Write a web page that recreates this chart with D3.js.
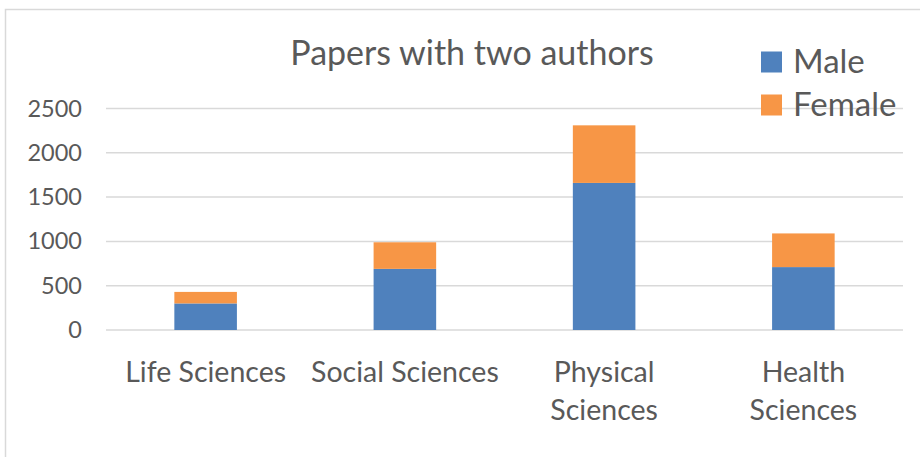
<!DOCTYPE html>
<html>
<head>
<meta charset="utf-8">
<script src="https://cdn.jsdelivr.net/npm/d3@7"></script>
<style>
  html, body { margin: 0; padding: 0; background: #fff; }
  svg { display: block; }
  text { font-family: Lato, "Open Sans", sans-serif; fill: #595959; }
</style>
</head>
<body>
<svg id="chart" width="920" height="457"></svg>
<script>
// Papers with two authors, by field and author gender
const categories = [["Life Sciences"], ["Social Sciences"], ["Physical", "Sciences"], ["Health", "Sciences"]];
const seriesNames = ["Male", "Female"];
const maleValues = [300, 690, 1660, 710];
const femaleValues = [130, 300, 650, 380];
const yTicks = [0, 500, 1000, 1500, 2000, 2500];
const colors = ["#4F81BD", "#F79646"];

const svg = d3.select("#chart");
const W = 920, H = 457;

// chart area frame
svg.append("path")
  .attr("d", `M5.5,${H} V9.5 H${W}`)
  .attr("fill", "none")
  .attr("stroke", "#d9d9d9")
  .attr("stroke-width", 1.5);

const keys = categories.map(c => c.join(" "));
const rows = keys.map((k, i) => ({ key: k, Male: maleValues[i], Female: femaleValues[i] }));

const x = d3.scaleBand().domain(keys).range([106, 903]).paddingInner(0.686).paddingOuter(0.343);
const y = d3.scaleLinear().domain([0, 2500]).range([330, 108.5]);

// horizontal gridlines
svg.append("g")
  .selectAll("line")
  .data(yTicks)
  .join("line")
  .attr("x1", 106).attr("x2", 903)
  .attr("y1", d => y(d)).attr("y2", d => y(d))
  .attr("stroke", "#d9d9d9")
  .attr("stroke-width", 1.5);

// y axis labels
const yAxis = d3.axisLeft(y).tickValues(yTicks).tickFormat(d3.format("d")).tickSize(0).tickPadding(0);
const gy = svg.append("g").attr("transform", "translate(82,0)").call(yAxis);
gy.select(".domain").remove();
gy.selectAll("text")
  .attr("font-family", "Lato, 'Open Sans', sans-serif")
  .attr("font-size", 23.5)
  .attr("fill", "#595959");

// stacked bars
const stack = d3.stack().keys(seriesNames)(rows);
svg.append("g")
  .selectAll("g")
  .data(stack)
  .join("g")
  .attr("fill", (d, i) => colors[i])
  .selectAll("rect")
  .data(d => d)
  .join("rect")
  .attr("x", d => x(d.data.key))
  .attr("width", x.bandwidth())
  .attr("y", d => y(d[1]))
  .attr("height", d => y(d[0]) - y(d[1]));

// category labels
const xAxis = d3.axisBottom(x).tickSize(0).tickFormat(() => "");
const gx = svg.append("g").attr("transform", "translate(0,330)").call(xAxis);
gx.select(".domain").remove();
gx.selectAll(".tick").each(function (k, i) {
  const t = d3.select(this).append("text")
    .attr("text-anchor", "middle")
    .attr("font-size", 28.5)
    .attr("fill", "#595959");
  categories[i].forEach((line, j) => {
    t.append("tspan").attr("x", 0).attr("y", 52 + j * 38).text(line);
  });
});

// title
svg.append("text")
  .attr("x", 472).attr("y", 65)
  .attr("text-anchor", "middle")
  .attr("font-size", 34)
  .text("Papers with two authors");

// legend
const legend = svg.append("g").selectAll("g")
  .data(seriesNames)
  .join("g")
  .attr("transform", (d, i) => `translate(761,${51.5 + i * 43})`);
legend.append("rect")
  .attr("width", 21).attr("height", 21)
  .attr("fill", (d, i) => colors[i]);
legend.append("text")
  .attr("x", 32).attr("y", 21)
  .attr("font-size", 33)
  .text(d => d);
</script>
</body>
</html>
